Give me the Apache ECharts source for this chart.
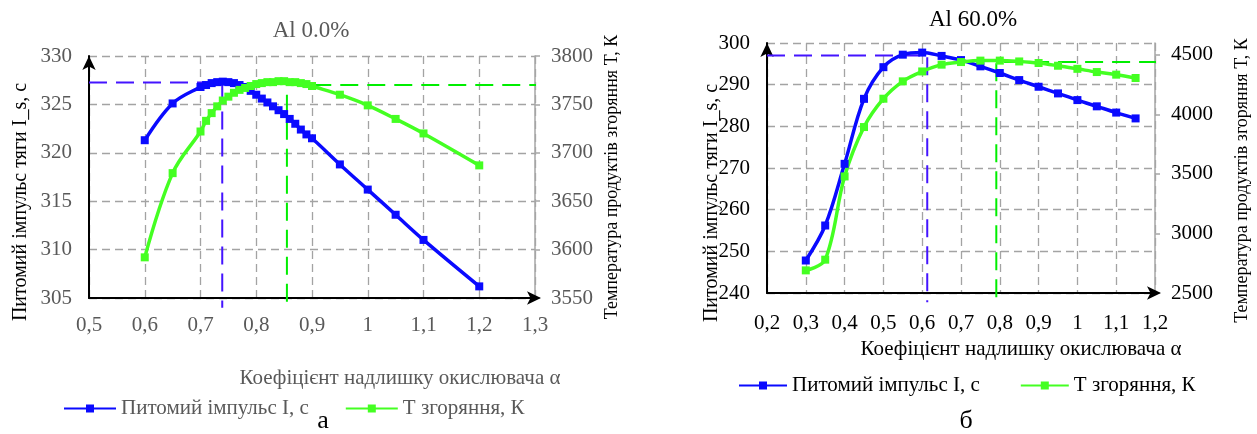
<!DOCTYPE html>
<html>
<head>
<meta charset="utf-8">
<script src="https://cdn.jsdelivr.net/npm/echarts@6/dist/echarts.min.js"></script>
<style>
  html, body { margin: 0; padding: 0; background: #fff; }
  #main { width: 1257px; height: 434px; }
</style>
</head>
<body>
<div id="main"></div>
<script>
// --- data (а): Al 0.0% ---
const alphaA = [0.6, 0.65, 0.7, 0.71, 0.72, 0.73, 0.74, 0.75, 0.76, 0.77, 0.78, 0.79, 0.8,
  0.81, 0.82, 0.83, 0.84, 0.85, 0.86, 0.87, 0.88, 0.89, 0.9, 0.95, 1.0, 1.05, 1.1, 1.2];
const impulseA = [321.3, 325.1, 326.8, 327.0, 327.2, 327.3, 327.35, 327.3, 327.2, 327.0, 326.8, 326.4, 326.0,
  325.6, 325.2, 324.8, 324.4, 324.0, 323.5, 323.0, 322.4, 321.9, 321.5, 318.8, 316.2, 313.6, 311.0, 306.2];
const tempA = [3592, 3679, 3722, 3733, 3741, 3748, 3754, 3758, 3762, 3765, 3767, 3769, 3771,
  3772, 3773, 3773, 3774, 3774, 3773, 3773, 3772, 3771, 3769, 3760, 3749, 3735, 3720, 3687];
// optimum guide lines (а)
const optImpulseA = [0.739, 327.25];
const optTempA = [0.855, 3770];

// --- data (б): Al 60.0% ---
const alphaB = [0.3, 0.35, 0.4, 0.45, 0.5, 0.55, 0.6, 0.65, 0.7, 0.75, 0.8, 0.85, 0.9, 0.95, 1.0, 1.05, 1.1, 1.15];
const impulseB = [247.8, 256.2, 271.0, 286.6, 294.2, 297.2, 297.7, 296.9, 295.9, 294.4, 292.8, 291.1,
  289.5, 287.9, 286.3, 284.8, 283.3, 281.9];
const tempB = [2690, 2780, 3479, 3894, 4132, 4278, 4361, 4418, 4440, 4452, 4452, 4445,
  4432, 4409, 4383, 4356, 4334, 4306];
const optImpulseB = [0.613, 297.0];
const optTempB = [0.791, 4440];

const nameI = 'Питомий імпульс I, с';
const nameT = 'T згоряння, К';
const xName = 'Коефіцієнт надлишку окислювача α';
const yNameI = 'Питомий імпульс тяги I_s, с';
const yNameT = 'Температура продуктів згоряння T, К';

const FONT = "'Liberation Serif', 'Times New Roman', serif";
const BLUE = '#0a0aff';
const GREEN = '#44ff22';
const GRAY_TXT = '#595959';
const gridLine = { show: true, lineStyle: { color: '#a3a3a3', width: 1.3, type: [8, 5] } };

const pairs = (xs, ys) => xs.map((x, i) => [x, ys[i]]);
const fmtX = v => String(Math.round(v * 10) / 10).replace('.', ',');

const chart = echarts.init(document.getElementById('main'), null, { renderer: 'canvas' });

function xAxisOf(idx, min, max, color, nameShift, nameGap, labelMargin) {
  return {
    type: 'value', gridIndex: idx, min: min, max: max, interval: 0.1,
    name: xName, nameLocation: 'middle', nameGap: nameGap,
    nameTextStyle: { color: color, fontSize: 21, fontFamily: FONT, padding: [0, 0, 0, nameShift] },
    axisLine: { show: true, onZero: false, symbol: ['none', 'arrow'], symbolSize: [10, 14], symbolOffset: [0, 6],
      lineStyle: { color: '#000', width: 2 } },
    axisTick: { show: false },
    axisLabel: { color: color, fontSize: 21, fontFamily: FONT, margin: labelMargin, formatter: fmtX },
    splitLine: gridLine
  };
}

function leftY(idx, min, max, step, color, pad, gap) {
  return {
    type: 'value', gridIndex: idx, position: 'left', min: min, max: max, interval: step,
    name: yNameI, nameLocation: 'middle', nameRotate: 90, nameGap: gap, nameMoveOverlap: false,
    nameTextStyle: { color: '#000', fontSize: 20, fontFamily: FONT, padding: pad },
    axisLine: { show: true, onZero: false, symbol: ['none', 'arrow'], symbolSize: [10, 14],
      lineStyle: { color: '#000', width: 2 } },
    axisTick: { show: false },
    axisLabel: { color: color, fontSize: 21, fontFamily: FONT, margin: 17 },
    splitLine: gridLine
  };
}

function rightY(idx, min, max, step, color, pad, gap) {
  return {
    type: 'value', gridIndex: idx, position: 'right', min: min, max: max, interval: step,
    name: yNameT, nameLocation: 'middle', nameRotate: 90, nameGap: gap,
    nameTextStyle: { color: '#000', fontSize: 18, fontFamily: FONT, padding: pad },
    axisLine: { show: true, lineStyle: { color: '#a6a6a6', width: 1.5 } },
    axisTick: { show: true, length: 5, lineStyle: { color: '#a6a6a6', width: 1.5 } },
    axisLabel: { color: color, fontSize: 21, fontFamily: FONT, margin: 16,
      showMaxLabel: max % step === 0, formatter: v => String(v) },
    splitLine: { show: false }
  };
}

function guide(x, y, pts, color) {
  return {
    type: 'line', xAxisIndex: x, yAxisIndex: y, data: pts, clip: false, silent: true,
    symbol: 'none', z: 1, lineStyle: { color: color, width: 2, type: [18, 9] }
  };
}

function curve(name, x, y, xs, ys, color) {
  return {
    name: name, type: 'line', xAxisIndex: x, yAxisIndex: y, data: pairs(xs, ys),
    smooth: 0.35, symbol: 'rect', symbolSize: 8, z: 3,
    lineStyle: { color: color, width: 3.5 }, itemStyle: { color: color }
  };
}

const option = {
  animation: false,
  backgroundColor: '#fff',
  title: [
    { text: 'Al 0.0%', left: 306, top: 14, textAlign: 'center',
      textStyle: { color: GRAY_TXT, fontSize: 23, fontWeight: 'normal', fontFamily: FONT } },
    { text: 'Al 60.0%', left: 968, top: 3, textAlign: 'center',
      textStyle: { color: '#000', fontSize: 23, fontWeight: 'normal', fontFamily: FONT } },
    { text: 'а', left: 318, top: 403, textAlign: 'center',
      textStyle: { color: '#000', fontSize: 26, fontWeight: 'normal', fontFamily: FONT } },
    { text: 'б', left: 961, top: 403, textAlign: 'center',
      textStyle: { color: '#000', fontSize: 26, fontWeight: 'normal', fontFamily: FONT } }
  ],
  legend: [
    { left: 58, top: 393, itemWidth: 52, itemHeight: 10, itemGap: 36, data: [nameI, nameT],
      textStyle: { color: GRAY_TXT, fontSize: 21, fontFamily: FONT } },
    { left: 733, top: 370, itemWidth: 48, itemHeight: 10, itemGap: 40, data: [nameI, nameT],
      textStyle: { color: '#000', fontSize: 21, fontFamily: FONT } }
  ],
  grid: [
    { left: 89, top: 56, width: 446, height: 242 },
    { left: 767, top: 43, width: 388, height: 250 }
  ],
  xAxis: [
    xAxisOf(0, 0.5, 1.3, GRAY_TXT, 176, 70, 17),
    xAxisOf(1, 0.2, 1.2, '#000', 120, 38, 20)
  ],
  yAxis: [
    leftY(0, 305, 330, 5, GRAY_TXT, [0, 50, 0, 0], 58),
    rightY(0, 3550, 3800, 50, GRAY_TXT, [0, 0, 0, 0], 68),
    leftY(1, 240, 300, 10, '#000', [0, 70, 0, 0], 45),
    rightY(1, 2500, 4600, 500, '#000', [0, 25, 0, 0], 78)
  ],
  series: [
    guide(0, 0, [[0.5, optImpulseA[1]], optImpulseA, [optImpulseA[0], 304.0]], '#4414ff'),
    guide(0, 1, [[1.322, optTempA[1]], optTempA, [optTempA[0], 3538]], '#00ee00'),
    curve(nameI, 0, 0, alphaA, impulseA, BLUE),
    curve(nameT, 0, 1, alphaA, tempA, GREEN),
    guide(1, 2, [[0.2, optImpulseB[1]], optImpulseB, [optImpulseB[0], 237.8]], '#4414ff'),
    guide(1, 3, [[1.275, optTempB[1]], optTempB, [optTempB[0], 2424]], '#00ee00'),
    curve(nameI, 1, 2, alphaB, impulseB, BLUE),
    curve(nameT, 1, 3, alphaB, tempB, GREEN)
  ]
};

chart.setOption(option);
window.addEventListener('resize', chart.resize);
</script>
</body>
</html>
